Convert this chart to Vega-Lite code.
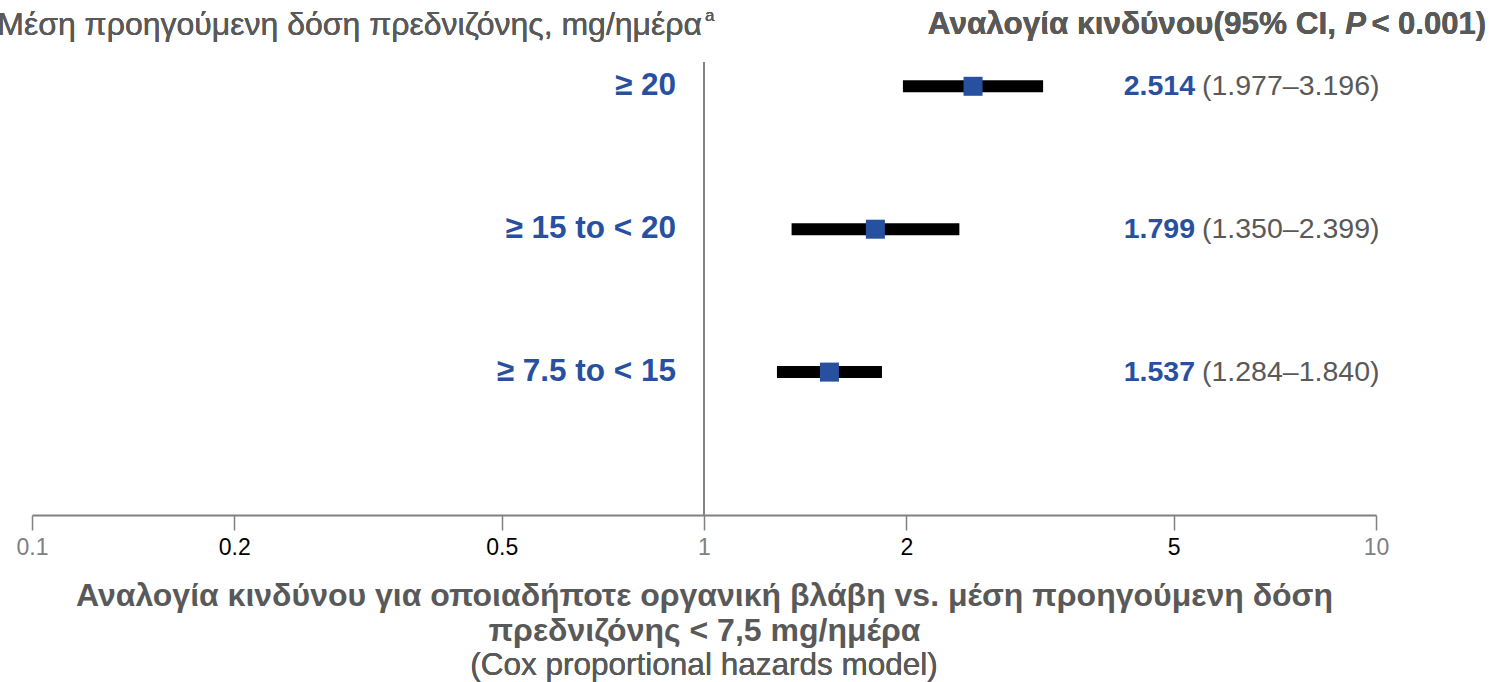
{
  "$schema": "https://vega.github.io/schema/vega-lite/v6.json",
  "width": 1344,
  "height": 453,
  "autosize": {"type": "none"},
  "padding": {"left": 32, "top": 62, "right": 120, "bottom": 167},
  "background": "white",
  "config": {"view": {"stroke": null}, "font": "Liberation Sans", "text": {"font": "Liberation Sans"}},
  "data": {"values": [
    {"label": "≥ 20", "row": 3, "hr": 2.514, "lo": 1.977, "hi": 3.196, "hrText": "2.514", "ciText": "(1.977–3.196)"},
    {"label": "≥ 15 to < 20", "row": 2, "hr": 1.799, "lo": 1.350, "hi": 2.399, "hrText": "1.799", "ciText": "(1.350–2.399)"},
    {"label": "≥ 7.5 to < 15", "row": 1, "hr": 1.537, "lo": 1.284, "hi": 1.840, "hrText": "1.537", "ciText": "(1.284–1.840)"}
  ]},
  "layer": [
    {
      "mark": {"type": "rule", "color": "#808080", "strokeWidth": 1.5},
      "encoding": {
        "x": {"datum": 1, "type": "quantitative",
          "scale": {"type": "log", "domain": [0.1, 10], "nice": false},
          "axis": {
            "values": [0.1, 0.2, 0.5, 1, 2, 5, 10],
            "format": "~g",
            "grid": false,
            "domainColor": "#808080", "domainWidth": 2,
            "tickColor": "#808080", "tickWidth": 1.5, "tickSize": 15,
            "labelFont": "Liberation Sans", "labelFontSize": 23, "labelPadding": 6,
            "labelFlush": false,
            "labelColor": {"condition": {"test": "datum.value == 0.1 || datum.value == 1 || datum.value == 10", "value": "#808080"}, "value": "#000000"},
            "title": ["Αναλογία κινδύνου για οποιαδήποτε οργανική βλάβη vs. μέση προηγούμενη δόση", "πρεδνιζόνης < 7,5 mg/ημέρα"],
            "titleFont": "Liberation Sans", "titleFontSize": 32, "titleFontWeight": "bold",
            "titleColor": "#595959", "titleLineHeight": 35, "titlePadding": 21
          }
        },
        "y": {"datum": 0, "type": "quantitative", "scale": {"domain": [0, 3.17], "nice": false, "zero": false}, "axis": null},
        "y2": {"datum": 3.17}
      }
    },
    {
      "mark": {"type": "rule", "color": "#000000", "strokeWidth": 12},
      "encoding": {
        "x": {"field": "lo", "type": "quantitative"},
        "x2": {"field": "hi"},
        "y": {"field": "row", "type": "quantitative"}
      }
    },
    {
      "mark": {"type": "point", "shape": "square", "filled": true, "size": 361, "color": "#2850a0", "opacity": 1},
      "encoding": {
        "x": {"field": "hr", "type": "quantitative"},
        "y": {"field": "row", "type": "quantitative"}
      }
    },
    {
      "mark": {"type": "text", "align": "right", "baseline": "middle", "dx": -28, "fontSize": 31.5, "fontWeight": "bold", "color": "#2850a0"},
      "encoding": {
        "x": {"datum": 1, "type": "quantitative"},
        "y": {"field": "row", "type": "quantitative"},
        "text": {"field": "label"}
      }
    },
    {
      "mark": {"type": "text", "align": "right", "baseline": "middle", "dx": 491, "fontSize": 28.5, "fontWeight": "bold", "color": "#2850a0"},
      "encoding": {
        "x": {"datum": 1, "type": "quantitative"},
        "y": {"field": "row", "type": "quantitative"},
        "text": {"field": "hrText"}
      }
    },
    {
      "mark": {"type": "text", "align": "left", "baseline": "middle", "dx": 498, "fontSize": 28.5, "color": "#595959"},
      "encoding": {
        "x": {"datum": 1, "type": "quantitative"},
        "y": {"field": "row", "type": "quantitative"},
        "text": {"field": "ciText"}
      }
    },
    {
      "mark": {"type": "text", "align": "center", "baseline": "middle", "dy": 151, "fontSize": 31.5, "color": "#595959", "text": "(Cox proportional hazards model)"},
      "encoding": {
        "x": {"datum": 1, "type": "quantitative"},
        "y": {"datum": 0, "type": "quantitative"}
      }
    },
    {
      "mark": {"type": "text", "align": "right", "baseline": "middle", "dx": -2, "dy": -37, "fontSize": 32, "color": "#595959", "text": "Μέση προηγούμενη δόση πρεδνιζόνης, mg/ημέρα"},
      "encoding": {
        "x": {"datum": 1, "type": "quantitative"},
        "y": {"datum": 3.17, "type": "quantitative"}
      }
    },
    {
      "mark": {"type": "text", "align": "left", "baseline": "middle", "dx": 1, "dy": -46, "fontSize": 17, "color": "#595959", "text": "a"},
      "encoding": {
        "x": {"datum": 1, "type": "quantitative"},
        "y": {"datum": 3.17, "type": "quantitative"}
      }
    },
    {
      "mark": {"type": "text", "align": "right", "baseline": "middle", "dx": 782, "dy": -37, "fontSize": 31, "fontWeight": "bold", "color": "#595959", "text": "< 0.001)"},
      "encoding": {
        "x": {"datum": 1, "type": "quantitative"},
        "y": {"datum": 3.17, "type": "quantitative"}
      }
    },
    {
      "mark": {"type": "text", "align": "right", "baseline": "middle", "dx": 662, "dy": -37, "fontSize": 31, "fontWeight": "bold", "fontStyle": "italic", "color": "#595959", "text": "P"},
      "encoding": {
        "x": {"datum": 1, "type": "quantitative"},
        "y": {"datum": 3.17, "type": "quantitative"}
      }
    },
    {
      "mark": {"type": "text", "align": "right", "baseline": "middle", "dx": 632, "dy": -37, "fontSize": 31.5, "fontWeight": "bold", "color": "#595959", "text": "Αναλογία κινδύνου(95% CI,"},
      "encoding": {
        "x": {"datum": 1, "type": "quantitative"},
        "y": {"datum": 3.17, "type": "quantitative"}
      }
    }
  ]
}
